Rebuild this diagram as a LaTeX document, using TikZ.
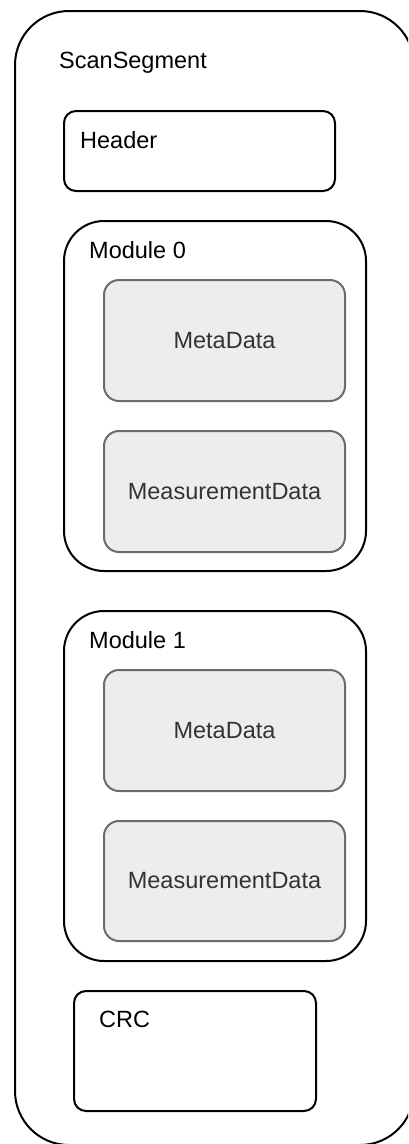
\documentclass[tikz,border=0pt]{standalone}
\usepackage{fontspec}
\setmainfont{Liberation Sans}
\begin{document}
\begin{tikzpicture}[x=1pt,y=-1pt,
  outerbox/.style={draw=black,line width=2pt,rounded corners=54pt,inner sep=0pt},
  plainbox/.style={draw=black,line width=2pt,rounded corners=12pt,inner sep=0pt},
  modbox/.style={draw=black,line width=2pt,rounded corners=40pt,inner sep=0pt},
  databox/.style={draw=black!58,fill=black!7,line width=2pt,rounded corners=15pt,inner sep=0pt,
    text=black!80,font=\fontsize{23.5pt}{28pt}\selectfont},
  lbl/.style={anchor=base west,inner sep=0pt,font=\fontsize{23.5pt}{28pt}\selectfont}
]
\useasboundingbox (0,0) rectangle (408,1144);
\begin{scope}
\clip (0,0) rectangle (408,1144);
\node[outerbox,minimum width=399pt,minimum height=1134pt] (scan) at (214.5,578) {};
\end{scope}
\node[lbl] (scanlbl) at (59,68) {ScanSegment};

\node[plainbox,minimum width=271pt,minimum height=80pt] (header) at (199.5,151) {};
\node[lbl] (headerlbl) at (80,148) {Header};

\node[modbox,minimum width=302pt,minimum height=350pt] (mod0) at (215,396) {};
\node[lbl] (mod0lbl) at (89,258) {Module 0};
\node[databox,minimum width=241pt,minimum height=121pt] (meta0) at (224.5,340.5) {MetaData};
\node[databox,minimum width=241pt,minimum height=121pt] (meas0) at (224.5,491.5) {MeasurementData};

\node[modbox,minimum width=302pt,minimum height=350pt] (mod1) at (215,786) {};
\node[lbl] (mod1lbl) at (89,648) {Module 1};
\node[databox,minimum width=241pt,minimum height=121pt] (meta1) at (224.5,730.5) {MetaData};
\node[databox,minimum width=241pt,minimum height=120pt] (meas1) at (224.5,881) {MeasurementData};

\node[plainbox,minimum width=242pt,minimum height=120pt] (crc) at (195,1051) {};
\node[lbl] (crclbl) at (99,1027) {CRC};
\end{tikzpicture}
\end{document}
